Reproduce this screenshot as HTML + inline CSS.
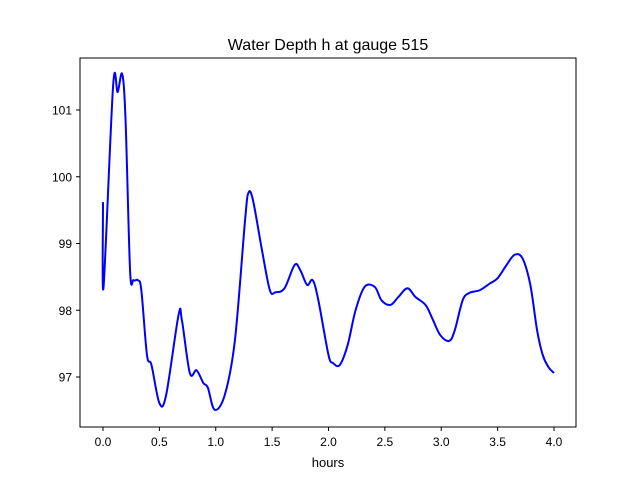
<!DOCTYPE html>
<html><head><meta charset="utf-8"><style>
body{margin:0;background:#fff}
svg{display:block;font-family:"Liberation Sans","DejaVu Sans",sans-serif}
</style></head><body>
<svg id="chart" width="640" height="480">
<rect width="640" height="480" fill="#fff"/>
<text x="328" y="50" text-anchor="middle" font-size="16">Water Depth h at gauge 515</text>
<g id="marks"></g>
<rect x="80" y="58" width="496" height="369" fill="none" stroke="#000" stroke-width="1"/>
<g id="xticks"></g><g id="yticks"></g>
<text x="328" y="467" text-anchor="middle" font-size="13">hours</text>
</svg>
<script>
const times=[0,0.005,0.09,0.13,0.17,0.2,0.24,0.27,0.31,0.34,0.39,0.43,0.5,0.56,0.67,0.7,0.77,0.83,0.89,0.93,0.99,1.08,1.17,1.26,1.29,1.33,1.41,1.48,1.53,1.61,1.7,1.75,1.81,1.86,1.91,2.0,2.04,2.1,2.17,2.24,2.32,2.41,2.47,2.55,2.62,2.7,2.77,2.86,2.92,2.99,3.07,3.12,3.19,3.25,3.34,3.43,3.5,3.58,3.65,3.72,3.79,3.85,3.9,3.95,4.0];
const depths=[99.62,98.35,101.37,101.27,101.54,100.85,98.6,98.45,98.45,98.3,97.33,97.18,96.61,96.73,97.93,97.85,97.06,97.1,96.91,96.84,96.51,96.73,97.55,99.35,99.76,99.65,98.9,98.3,98.27,98.33,98.68,98.6,98.38,98.45,98.15,97.33,97.21,97.18,97.48,98.0,98.35,98.35,98.15,98.08,98.2,98.33,98.2,98.08,97.88,97.63,97.54,97.7,98.15,98.26,98.3,98.4,98.48,98.68,98.83,98.78,98.38,97.7,97.33,97.15,97.06];
const xTickVals=[0,0.5,1,1.5,2,2.5,3,3.5,4];
const xTickLabels=["0.0","0.5","1.0","1.5","2.0","2.5","3.0","3.5","4.0"];
const yTickVals=[97,98,99,100,101];
const yTickLabels=["97","98","99","100","101"];
const sx=t=>103+t*112.75;
const sy=v=>110+(101-v)*66.75;
const NS="http://www.w3.org/2000/svg";
const pts=times.map((t,i)=>[sx(t),sy(depths[i])]);
let d="M"+pts[0][0]+","+pts[0][1];
for(let i=0;i<pts.length-1;i++){
  const p0=pts[Math.max(0,i-1)],p1=pts[i],p2=pts[i+1],p3=pts[Math.min(pts.length-1,i+2)];
  const c1=[p1[0]+(p2[0]-p0[0])/6,p1[1]+(p2[1]-p0[1])/6];
  const c2=[p2[0]-(p3[0]-p1[0])/6,p2[1]-(p3[1]-p1[1])/6];
  d+=` C${c1[0]},${c1[1]} ${c2[0]},${c2[1]} ${p2[0]},${p2[1]}`;
}
const path=document.createElementNS(NS,"path");
path.setAttribute("d",d);path.setAttribute("fill","none");path.setAttribute("stroke","#0000ff");path.setAttribute("stroke-width","2");


document.getElementById("marks").appendChild(path);
const xg=document.getElementById("xticks");
xTickVals.forEach((v,i)=>{
  const x=sx(v);
  const l=document.createElementNS(NS,"line");
  l.setAttribute("x1",x);l.setAttribute("x2",x);l.setAttribute("y1",427);l.setAttribute("y2",431);l.setAttribute("stroke","#000");
  
  
  xg.appendChild(l);
  const t=document.createElementNS(NS,"text");
  t.setAttribute("x",x);t.setAttribute("y",446);t.setAttribute("text-anchor","middle");t.setAttribute("font-size","12");
  t.textContent=xTickLabels[i];
  
  
  xg.appendChild(t);
});
const yg=document.getElementById("yticks");
yTickVals.forEach((v,i)=>{
  const y=sy(v);
  const l=document.createElementNS(NS,"line");
  l.setAttribute("x1",76);l.setAttribute("x2",80);l.setAttribute("y1",y);l.setAttribute("y2",y);l.setAttribute("stroke","#000");
  
  
  yg.appendChild(l);
  const t=document.createElementNS(NS,"text");
  t.setAttribute("x",72);t.setAttribute("y",y+4.5);t.setAttribute("text-anchor","end");t.setAttribute("font-size","12");
  t.textContent=yTickLabels[i];
  
  
  yg.appendChild(t);
});
</script>
</body></html>
